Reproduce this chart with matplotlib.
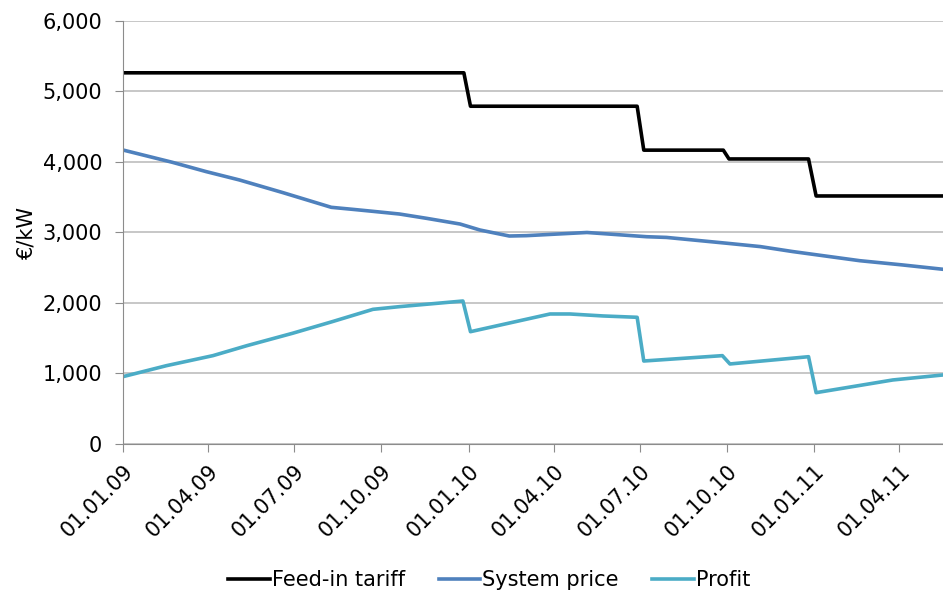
import matplotlib
matplotlib.use("Agg")
import matplotlib.pyplot as plt
import pandas as pd
from matplotlib.ticker import FuncFormatter

# Feed-in tariff (step function)
fit_dates = ["2009-01-01", "2009-12-27", "2010-01-03", "2010-06-28", "2010-07-05",
             "2010-09-27", "2010-10-03", "2010-12-26", "2011-01-03", "2011-05-17"]
fit_values = [5265, 5265, 4791, 4791, 4168, 4168, 4043, 4043, 3518, 3518]

# System price
price_dates = ["2009-01-01", "2009-02-22", "2009-03-30", "2009-05-04", "2009-06-19",
               "2009-08-09", "2009-08-31", "2009-09-22", "2009-10-20", "2009-11-18",
               "2009-12-23", "2010-01-13", "2010-02-13", "2010-03-03", "2010-05-06",
               "2010-07-08", "2010-07-29", "2010-10-01", "2010-11-05", "2010-12-09",
               "2011-02-18", "2011-04-04", "2011-05-17"]
price_values = [4170, 3996, 3863, 3745, 3565, 3357, 3329, 3300, 3262, 3200,
                3120, 3035, 2950, 2955, 3000, 2940, 2930, 2847, 2800, 2730,
                2600, 2540, 2478]

# Profit
profit_dates = ["2009-01-01", "2009-02-16", "2009-04-06", "2009-05-12", "2009-06-29",
                "2009-08-10", "2009-09-22", "2009-10-20", "2009-12-26", "2010-01-03",
                "2010-03-28", "2010-04-18", "2010-05-23", "2010-06-28", "2010-07-05",
                "2010-09-26", "2010-10-04", "2010-12-26", "2011-01-03", "2011-03-25",
                "2011-05-17"]
profit_values = [955, 1111, 1253, 1395, 1570, 1735, 1910, 1948, 2028, 1593,
                 1844, 1844, 1816, 1797, 1177, 1253, 1135, 1238, 728, 908, 979]

tick_dates = ["2009-01-01", "2009-04-01", "2009-07-01", "2009-10-01", "2010-01-01",
              "2010-04-01", "2010-07-01", "2010-10-01", "2011-01-01", "2011-04-01"]


def main():
    plt.rcParams["font.family"] = ["DejaVu Sans"]
    fig = plt.figure(figsize=(9.43, 5.93), dpi=100)
    ax = fig.add_axes([0.1304, 0.2513, 0.8696, 0.7133])

    ax.plot(pd.to_datetime(fit_dates), fit_values, color="black", lw=2.6,
            label="Feed-in tariff")
    ax.plot(pd.to_datetime(price_dates), price_values, color="#4F81BD", lw=2.6,
            label="System price")
    ax.plot(pd.to_datetime(profit_dates), profit_values, color="#4BACC6", lw=2.6,
            label="Profit")

    ax.set_ylim(0, 6000)
    ax.set_xlim(pd.Timestamp("2009-01-01"), pd.Timestamp("2011-05-17"))
    ax.set_yticks(range(0, 6001, 1000))
    ax.yaxis.set_major_formatter(FuncFormatter(lambda v, p: f"{int(v):,}"))
    ax.grid(axis="y", color="#BEBEBE", lw=1.2)
    ax.set_axisbelow(True)

    ticks = pd.to_datetime(tick_dates)
    ax.set_xticks(ticks)
    ax.set_xticklabels([d.strftime("%d.%m.%y") for d in ticks], rotation=45,
                       ha="right", rotation_mode="anchor", fontsize=15)
    ax.tick_params(axis="y", labelsize=15, length=6, color="#8C8C8C", pad=9)
    ax.tick_params(axis="x", length=6, color="#8C8C8C", pad=6)

    for side in ["top", "right"]:
        ax.spines[side].set_visible(False)
    ax.spines["left"].set_color("#8C8C8C")
    ax.spines["bottom"].set_color("#8C8C8C")

    ax.set_ylabel("€/kW", fontsize=15, labelpad=4)

    fig.legend(loc="center", bbox_to_anchor=(0.519, 0.022), ncol=3, frameon=False,
               fontsize=15, handlelength=2.0, handletextpad=0.1, columnspacing=1.6)

    fig.savefig("out.png", dpi=100)


if __name__ == "__main__":
    main()
